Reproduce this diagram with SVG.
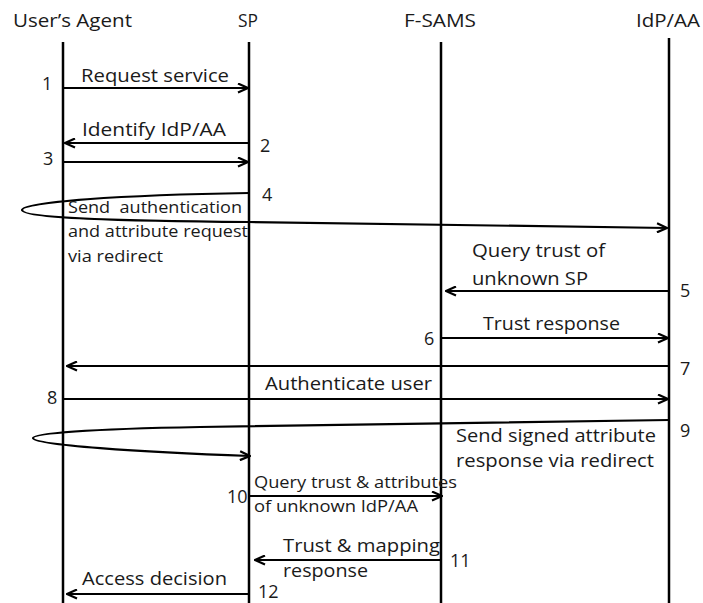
<svg xmlns="http://www.w3.org/2000/svg" width="703" height="603" viewBox="0 0 703 603">
  <style>
    text { font-family: "Open Sans", "Liberation Sans", sans-serif; fill: #1a1a1a; }
    .t { font-size: 18px; }
    .l { font-size: 18px; }
    .s { font-size: 16.5px; }
    .n { font-size: 18px; }
    .life { stroke: #000; stroke-width: 2.5; fill: none; }
    .msg { stroke: #000; stroke-width: 2.2; fill: none; marker-end: url(#ah); }
  </style>
  <defs>
    <marker id="ah" viewBox="0 0 12 11" refX="11" refY="5.5" markerWidth="12" markerHeight="11" markerUnits="userSpaceOnUse" orient="auto">
      <path d="M1,1 L11,5.5 L1,10" fill="none" stroke="#000" stroke-width="2.2"/>
    </marker>
  </defs>
  <rect width="703" height="603" fill="#fff"/>

  <g id="useragent">
    <line class="life" x1="63" y1="42" x2="63" y2="603"/>
    <text class="t" x="13" y="27" textLength="119" lengthAdjust="spacingAndGlyphs">User’s Agent</text>
  </g>
  <g id="sp">
    <line class="life" x1="249" y1="42" x2="249" y2="603"/>
    <text class="t" x="238" y="27" textLength="20" lengthAdjust="spacingAndGlyphs">SP</text>
  </g>
  <g id="fsams">
    <line class="life" x1="441" y1="42" x2="441" y2="603"/>
    <text class="t" x="404" y="27" textLength="72" lengthAdjust="spacingAndGlyphs">F-SAMS</text>
  </g>
  <g id="idpaa">
    <line class="life" x1="669" y1="38" x2="669" y2="603"/>
    <text class="t" x="636" y="27" textLength="64" lengthAdjust="spacingAndGlyphs">IdP/AA</text>
  </g>

  <g id="connectors">
    <line class="msg" x1="63" y1="88" x2="248" y2="88"/>
    <line class="msg" x1="249" y1="143" x2="65" y2="143"/>
    <line class="msg" x1="63" y1="162" x2="248" y2="162"/>
    <path class="msg" d="M249,193 C120,195 22,202 22,210 C22,218 120,221 249,222 L667,228"/>
    <line class="msg" x1="669" y1="291" x2="446" y2="291"/>
    <line class="msg" x1="441" y1="338" x2="668" y2="338"/>
    <line class="msg" x1="669" y1="366" x2="67" y2="366"/>
    <line class="msg" x1="63" y1="399" x2="668" y2="399"/>
    <path class="msg" d="M669,420 L200,427 C90,429 33,433 33,438 C33,445 140,452 250,456"/>
    <line class="msg" x1="249" y1="496" x2="442" y2="496"/>
    <line class="msg" x1="441" y1="560" x2="255" y2="560"/>
    <line class="msg" x1="249" y1="594" x2="67" y2="594"/>
  </g>

  <g id="labels">
    <text class="l" x="81" y="82" textLength="148" lengthAdjust="spacingAndGlyphs">Request service</text>
    <text class="l" x="82" y="136" textLength="144" lengthAdjust="spacingAndGlyphs">Identify IdP/AA</text>
    <text class="s" x="68" y="213" textLength="174" lengthAdjust="spacingAndGlyphs" xml:space="preserve">Send  authentication</text>
    <text class="s" x="68" y="237" textLength="180" lengthAdjust="spacingAndGlyphs">and attribute request</text>
    <text class="s" x="68" y="262" textLength="95" lengthAdjust="spacingAndGlyphs">via redirect</text>
    <text class="l" x="472" y="257" textLength="133" lengthAdjust="spacingAndGlyphs">Query trust of</text>
    <text class="l" x="472" y="285" textLength="116" lengthAdjust="spacingAndGlyphs">unknown SP</text>
    <text class="l" x="483" y="330" textLength="137" lengthAdjust="spacingAndGlyphs">Trust response</text>
    <text class="l" x="265" y="390" textLength="167" lengthAdjust="spacingAndGlyphs">Authenticate user</text>
    <text class="l" x="456" y="442" textLength="200" lengthAdjust="spacingAndGlyphs">Send signed attribute</text>
    <text class="l" x="456" y="467" textLength="198" lengthAdjust="spacingAndGlyphs">response via redirect</text>
    <text class="s" x="254" y="488" textLength="203" lengthAdjust="spacingAndGlyphs">Query trust &amp; attributes</text>
    <text class="s" x="254" y="512" textLength="164" lengthAdjust="spacingAndGlyphs">of unknown IdP/AA</text>
    <text class="l" x="283" y="552" textLength="157" lengthAdjust="spacingAndGlyphs">Trust &amp; mapping</text>
    <text class="l" x="283" y="577" textLength="85" lengthAdjust="spacingAndGlyphs">response</text>
    <text class="l" x="82" y="585" textLength="145" lengthAdjust="spacingAndGlyphs">Access decision</text>

    <text class="n" x="42" y="90">1</text>
    <text class="n" x="260" y="152">2</text>
    <text class="n" x="43" y="165">3</text>
    <text class="n" x="262" y="201">4</text>
    <text class="n" x="680" y="297">5</text>
    <text class="n" x="424" y="345">6</text>
    <text class="n" x="680" y="375">7</text>
    <text class="n" x="47" y="404">8</text>
    <text class="n" x="680" y="437">9</text>
    <text class="n" x="227" y="503">10</text>
    <text class="n" x="450" y="567">11</text>
    <text class="n" x="258" y="598">12</text>
  </g>
</svg>
